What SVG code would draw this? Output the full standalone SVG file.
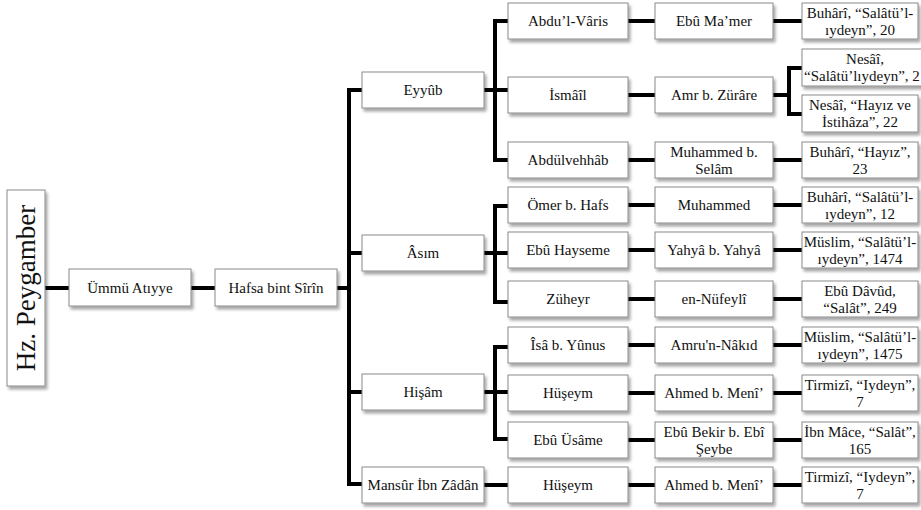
<svg xmlns="http://www.w3.org/2000/svg" width="921" height="510" viewBox="0 0 921 510">
<defs>
<filter id="sh" x="-10%" y="-20%" width="130%" height="160%">
<feDropShadow dx="2" dy="3" stdDeviation="1.5" flood-color="#000" flood-opacity="0.35"/>
</filter>
</defs>
<style>
.b{fill:#fff;stroke:#8a8a8a;stroke-width:1;filter:url(#sh)}
.t{font-family:"Liberation Serif","Times New Roman",serif;font-size:15px;fill:#111;text-anchor:middle}
.big{font-size:27px}
.c{fill:none;stroke:#000;stroke-width:4;stroke-linejoin:miter;stroke-linecap:butt}
</style>
<rect width="921" height="510" fill="#fff"/>
<g id="connectors">
<path class="c" d="M45 288H69M191 288H215M337 288H349M362 90H349V484H362M349 253H362M349 392H362"/>
<path class="c" d="M508 21H495V160H508M484 90H508M508 206H495V302H508M484 253H508M508 347H495V439H508M484 392H508M484 485H508"/>
<path class="c" d="M628 21H655M628 95H655M628 160H655M628 205H655M628 250H655M628 299H655M628 345H655M628 393H655M628 440H655M628 485H655"/>
<path class="c" d="M773 21H802M773 95H789M802 68H789V114H802M773 160H802M773 205H802M773 250H802M773 299H802M773 345H802M773 393H802M773 440H802M773 485H802"/>
</g>
<g id="n-hz"><rect class="b" x="7" y="190" width="38" height="196"/><text class="t big" transform="translate(35 288) rotate(-90)">Hz. Peygamber</text></g>
<g id="n-ummu"><rect class="b" x="69" y="269" width="122" height="37"/><text class="t" x="130" y="293">Ümmü Atıyye</text></g>
<g id="n-hafsa"><rect class="b" x="215" y="269" width="122" height="37"/><text class="t" x="276" y="293">Hafsa bint Sîrîn</text></g>

<g id="n-eyyub"><rect class="b" x="362" y="72" width="122" height="36"/><text class="t" x="423" y="95">Eyyûb</text></g>
<g id="n-asim"><rect class="b" x="362" y="235" width="122" height="36"/><text class="t" x="423" y="258">Âsım</text></g>
<g id="n-hisam"><rect class="b" x="362" y="374" width="122" height="36"/><text class="t" x="423" y="397">Hişâm</text></g>
<g id="n-mansur"><rect class="b" x="362" y="467" width="122" height="36"/><text class="t" x="423" y="490">Mansûr İbn Zâdân</text></g>

<g id="n-abduvaris"><rect class="b" x="508" y="3" width="120" height="36"/><text class="t" x="568" y="26">Abdu’l-Vâris</text></g>
<g id="n-ismail"><rect class="b" x="508" y="77" width="120" height="36"/><text class="t" x="568" y="100">İsmâîl</text></g>
<g id="n-abdulvehhab"><rect class="b" x="508" y="142" width="120" height="36"/><text class="t" x="568" y="165">Abdülvehhâb</text></g>
<g id="n-omer"><rect class="b" x="508" y="187" width="120" height="36"/><text class="t" x="568" y="210">Ömer b. Hafs</text></g>
<g id="n-hayseme"><rect class="b" x="508" y="232" width="120" height="36"/><text class="t" x="568" y="255">Ebû Hayseme</text></g>
<g id="n-zuheyr"><rect class="b" x="508" y="281" width="120" height="36"/><text class="t" x="568" y="304">Züheyr</text></g>
<g id="n-isa"><rect class="b" x="508" y="327" width="120" height="36"/><text class="t" x="568" y="350">Îsâ b. Yûnus</text></g>
<g id="n-huseym1"><rect class="b" x="508" y="375" width="120" height="36"/><text class="t" x="568" y="398">Hüşeym</text></g>
<g id="n-usame"><rect class="b" x="508" y="422" width="120" height="36"/><text class="t" x="568" y="445">Ebû Üsâme</text></g>
<g id="n-huseym2"><rect class="b" x="508" y="467" width="120" height="36"/><text class="t" x="568" y="490">Hüşeym</text></g>

<g id="n-mamer"><rect class="b" x="655" y="3" width="118" height="36"/><text class="t" x="714" y="26">Ebû Ma’mer</text></g>
<g id="n-amr"><rect class="b" x="655" y="77" width="118" height="36"/><text class="t" x="714" y="100">Amr b. Zürâre</text></g>
<g id="n-selam"><rect class="b" x="655" y="142" width="118" height="36"/><text class="t" x="714" y="157">Muhammed b.</text><text class="t" x="714" y="174">Selâm</text></g>
<g id="n-muhammed"><rect class="b" x="655" y="187" width="118" height="36"/><text class="t" x="714" y="210">Muhammed</text></g>
<g id="n-yahya"><rect class="b" x="655" y="232" width="118" height="36"/><text class="t" x="714" y="255">Yahyâ b. Yahyâ</text></g>
<g id="n-nufeyli"><rect class="b" x="655" y="281" width="118" height="36"/><text class="t" x="714" y="304">en-Nüfeylî</text></g>
<g id="n-nakid"><rect class="b" x="655" y="327" width="118" height="36"/><text class="t" x="714" y="350">Amru'n-Nâkıd</text></g>
<g id="n-meni1"><rect class="b" x="655" y="375" width="118" height="36"/><text class="t" x="714" y="398">Ahmed b. Menî’</text></g>
<g id="n-ebubekir"><rect class="b" x="655" y="422" width="118" height="36"/><text class="t" x="714" y="437">Ebû Bekir b. Ebî</text><text class="t" x="714" y="454">Şeybe</text></g>
<g id="n-meni2"><rect class="b" x="655" y="467" width="118" height="36"/><text class="t" x="714" y="490">Ahmed b. Menî’</text></g>

<g id="s-buhari20"><rect class="b" x="802" y="3" width="116" height="36"/><text class="t" x="860" y="18">Buhârî, “Salâtü’l-</text><text class="t" x="860" y="35">ıydeyn”, 20</text></g>
<g id="s-nesai1"><rect class="b" x="802" y="49" width="130" height="37"/><text class="t" x="865" y="64">Nesâî,</text><text class="t" x="804" y="81" style="text-anchor:start">“Salâtü’lıydeyn”, 2</text></g>
<g id="s-nesai2"><rect class="b" x="802" y="95" width="116" height="37"/><text class="t" x="860" y="110">Nesâî, “Hayız ve</text><text class="t" x="860" y="127">İstihâza”, 22</text></g>
<g id="s-buhari23"><rect class="b" x="802" y="142" width="116" height="36"/><text class="t" x="860" y="157">Buhârî, “Hayız”,</text><text class="t" x="860" y="174">23</text></g>
<g id="s-buhari12"><rect class="b" x="802" y="187" width="116" height="36"/><text class="t" x="860" y="202">Buhârî, “Salâtü’l-</text><text class="t" x="860" y="219">ıydeyn”, 12</text></g>
<g id="s-muslim1474"><rect class="b" x="802" y="232" width="116" height="36"/><text class="t" x="860" y="247">Müslim, “Salâtü’l-</text><text class="t" x="860" y="264">ıydeyn”, 1474</text></g>
<g id="s-ebudavud"><rect class="b" x="802" y="281" width="116" height="36"/><text class="t" x="860" y="296">Ebû Dâvûd,</text><text class="t" x="860" y="313">“Salât”, 249</text></g>
<g id="s-muslim1475"><rect class="b" x="802" y="327" width="116" height="36"/><text class="t" x="860" y="342">Müslim, “Salâtü’l-</text><text class="t" x="860" y="359">ıydeyn”, 1475</text></g>
<g id="s-tirmizi1"><rect class="b" x="802" y="375" width="116" height="36"/><text class="t" x="860" y="390">Tirmizî, “Iydeyn”,</text><text class="t" x="860" y="407">7</text></g>
<g id="s-ibnmace"><rect class="b" x="802" y="422" width="116" height="36"/><text class="t" x="860" y="437">İbn Mâce, “Salât”,</text><text class="t" x="860" y="454">165</text></g>
<g id="s-tirmizi2"><rect class="b" x="802" y="467" width="116" height="36"/><text class="t" x="860" y="482">Tirmizî, “Iydeyn”,</text><text class="t" x="860" y="499">7</text></g>
</svg>
